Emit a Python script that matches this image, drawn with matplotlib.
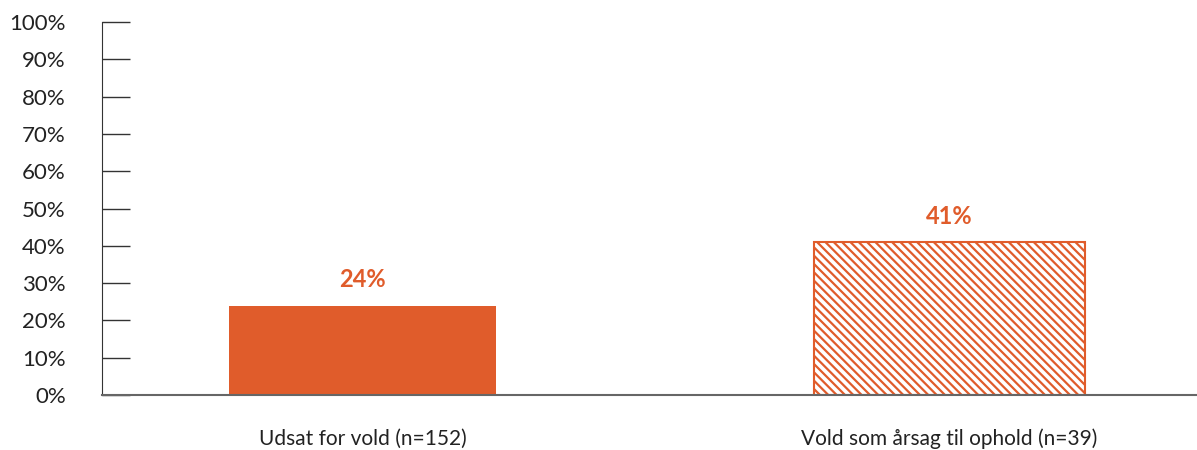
import matplotlib.pyplot as plt
import numpy as np

categories = ["Udsat for vold (n=152)", "Vold som årsag til ophold (n=39)"]
values = [24, 41]
labels = ["24%", "41%"]
hatches = [None, "\\\\\\\\"]

orange = "#E05C2B"

plt.rcParams["font.family"] = ["Lato", "DejaVu Sans"]
plt.rcParams["hatch.linewidth"] = 1.6

fig, ax = plt.subplots(figsize=(11.97, 4.5), dpi=100)
fig.subplots_adjust(left=0.085, right=1.0, top=0.951, bottom=0.122)

x = np.arange(len(categories))
for i, (v, h) in enumerate(zip(values, hatches)):
    if h is None:
        ax.bar(x[i], v, width=0.455, color=orange, edgecolor=orange, linewidth=0)
    else:
        ax.bar(x[i], v, width=0.462, facecolor="white", edgecolor=orange,
               hatch=h, linewidth=1.5)
    ax.text(x[i], v + 7, labels[i], ha="center", va="center",
            color=orange, fontsize=17, fontweight="bold")

ax.set_ylim(0, 100)
ax.set_xlim(-0.445, 1.422)
ax.set_yticks(range(0, 101, 10))
ax.set_yticklabels([f"{t}%" for t in range(0, 101, 10)], fontsize=16, color="#222222")
ax.tick_params(axis="y", direction="in", length=20, width=1, color="#333333", pad=26)
ax.set_xticks(x)
ax.set_xticklabels(categories, fontsize=15, color="#222222")
ax.tick_params(axis="x", length=0, pad=24)

for s in ["top", "right"]:
    ax.spines[s].set_visible(False)
ax.spines["left"].set_color("#333333")
ax.spines["bottom"].set_color("#666666")
ax.spines["bottom"].set_linewidth(1.5)

plt.savefig("out.png", dpi=100)
